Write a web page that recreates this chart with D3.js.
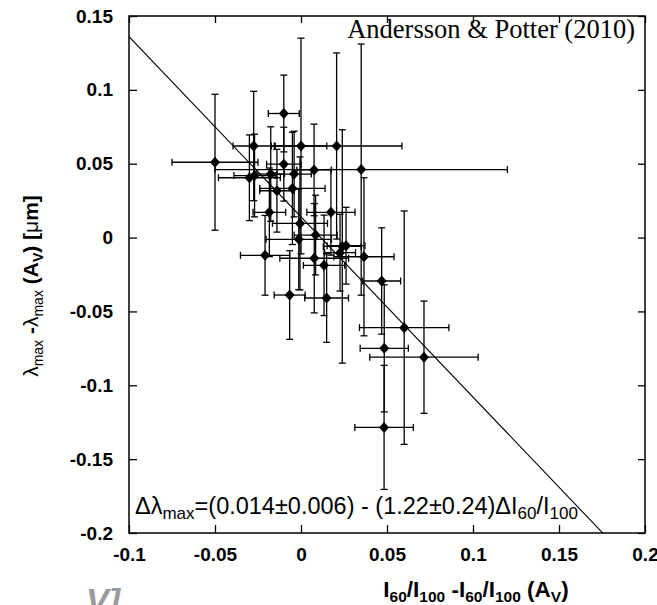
<!DOCTYPE html>
<html>
    <head>
        <title>lambda_max vs I60/I100</title>
        <style>
            body {margin:0; background:#fff;}
            .axis text {font-family:"Liberation Sans", Arial, sans-serif; font-weight:bold; font-size:19px; fill:#000;}
            .axis path {display:none;}
            .axis line {stroke:#000; stroke-width:1.3px;}
            .err {stroke:#000; stroke-width:1.3px;}
        </style>
        <script src="https://d3js.org/d3.v7.min.js"></script>
    </head>
    <body>
        <svg id="chart" width="657" height="605"></svg>
        <script>
            // data: x = I60/I100 offset, y = lambda_max offset
            var xVals = [-0.050, -0.010, -0.0275, 0.000, 0.0207, 0.035, 0.0076, -0.010, -0.0176, -0.004, -0.030,
                         -0.027, -0.014, -0.005, -0.0184, 0.0174, -0.0006, 0.0085, -0.0013, 0.0262, 0.024, 0.0227,
                         -0.0209, 0.0077, 0.0366, 0.0134, 0.0469, -0.0066, 0.0149, 0.060, 0.0484, 0.0715, 0.0483];
            var yVals = [0.051, 0.084, 0.062, 0.062, 0.062, 0.046, 0.0458, 0.0497, 0.043, 0.043, 0.0405,
                         0.042, 0.0317, 0.0333, 0.0171, 0.0171, 0.0096, 0.0017, -0.0012, -0.0055, -0.006, -0.0102,
                         -0.012, -0.014, -0.013, -0.0188, -0.0294, -0.0389, -0.0409, -0.061, -0.075, -0.081, -0.1285];
            var xErrs = [0.025, 0.009, 0.012, 0.015, 0.038, 0.085, 0.010, 0.010, 0.008, 0.010, 0.018,
                         0.012, 0.010, 0.019, 0.0095, 0.014, 0.016, 0.0125, 0.019, 0.011, 0.011, 0.009,
                         0.0143, 0.020, 0.0175, 0.012, 0.011, 0.009, 0.0127, 0.026, 0.014, 0.0315, 0.017];
            var yErrs = [0.046, 0.026, 0.037, 0.073, 0.063, 0.085, 0.031, 0.025, 0.032, 0.029, 0.029,
                         0.028, 0.028, 0.038, 0.030, 0.029, 0.045, 0.027, 0.034, 0.026, 0.079, 0.026,
                         0.027, 0.037, 0.0535, 0.034, 0.036, 0.030, 0.030, 0.079, 0.043, 0.038, 0.042];

            var xTicks = [-0.1, -0.05, 0, 0.05, 0.1, 0.15, 0.2];
            var xTickLabels = ["-0.1", "-0.05", "0", "0.05", "0.1", "0.15", "0.2"];
            var yTicks = [0.15, 0.1, 0.05, 0, -0.05, -0.1, -0.15, -0.2];
            var yTickLabels = ["0.15", "0.1", "0.05", "0", "-0.05", "-0.1", "-0.15", "-0.2"];

            // fit: dLambda = 0.014 - 1.22 dI60/I100
            var fitIntercept = 0.014;
            var fitSlope = -1.22;

            var svg = d3.select("#chart");
            var plotL = 129, plotR = 645, plotT = 16, plotB = 533;

            var x = d3.scaleLinear().domain([-0.1, 0.2]).range([plotL, plotR]);
            var y = d3.scaleLinear().domain([-0.2, 0.15]).range([plotB, plotT]);

            svg.append("defs").append("clipPath").attr("id", "plotClip")
                .append("rect").attr("x", plotL).attr("y", plotT)
                .attr("width", plotR - plotL).attr("height", plotB - plotT);

            // axes, ticks pointing inward on all four sides
            svg.append("g").attr("class", "axis")
                .attr("transform", "translate(0," + plotB + ")")
                .call(d3.axisBottom(x).tickValues(xTicks).tickSize(-8).tickPadding(15)
                    .tickFormat(function(d, i) { return xTickLabels[i]; }));
            svg.append("g").attr("class", "axis")
                .attr("transform", "translate(0," + plotT + ")")
                .call(d3.axisTop(x).tickValues(xTicks).tickSize(-7).tickFormat(""));
            svg.append("g").attr("class", "axis")
                .attr("transform", "translate(" + plotL + ",0)")
                .call(d3.axisLeft(y).tickValues(yTicks).tickSize(-8).tickPadding(16)
                    .tickFormat(function(d, i) { return yTickLabels[i]; }));
            svg.append("g").attr("class", "axis")
                .attr("transform", "translate(" + plotR + ",0)")
                .call(d3.axisRight(y).tickValues(yTicks).tickSize(-7).tickFormat(""));

            svg.append("rect")
                .attr("x", plotL).attr("y", plotT)
                .attr("width", plotR - plotL).attr("height", plotB - plotT)
                .attr("fill", "none").attr("stroke", "#000").attr("stroke-width", 1.5);

            // regression line
            var fitX = x.domain();
            svg.append("line")
                .attr("clip-path", "url(#plotClip)")
                .attr("x1", x(fitX[0])).attr("y1", y(fitIntercept + fitSlope * fitX[0]))
                .attr("x2", x(fitX[1])).attr("y2", y(fitIntercept + fitSlope * fitX[1]))
                .attr("stroke", "#000").attr("stroke-width", 1.1);

            var pts = xVals.map(function(v, i) {
                return {x: v, y: yVals[i], ex: xErrs[i], ey: yErrs[i]};
            });

            var cap = 3.5;
            var bars = svg.append("g").attr("class", "err").attr("clip-path", "url(#plotClip)");
            pts.forEach(function(p) {
                var g = bars.append("g");
                // vertical
                g.append("line").attr("x1", x(p.x)).attr("x2", x(p.x))
                    .attr("y1", y(p.y - p.ey)).attr("y2", y(p.y + p.ey));
                g.append("line").attr("x1", x(p.x) - cap).attr("x2", x(p.x) + cap)
                    .attr("y1", y(p.y + p.ey)).attr("y2", y(p.y + p.ey));
                g.append("line").attr("x1", x(p.x) - cap).attr("x2", x(p.x) + cap)
                    .attr("y1", y(p.y - p.ey)).attr("y2", y(p.y - p.ey));
                // horizontal
                g.append("line").attr("y1", y(p.y)).attr("y2", y(p.y))
                    .attr("x1", x(p.x - p.ex)).attr("x2", x(p.x + p.ex));
                g.append("line").attr("y1", y(p.y) - cap).attr("y2", y(p.y) + cap)
                    .attr("x1", x(p.x - p.ex)).attr("x2", x(p.x - p.ex));
                g.append("line").attr("y1", y(p.y) - cap).attr("y2", y(p.y) + cap)
                    .attr("x1", x(p.x + p.ex)).attr("x2", x(p.x + p.ex));
            });

            svg.append("g").selectAll("path").data(pts).join("path")
                .attr("d", "M0,-5.5L5,0L0,5.5L-5,0Z")
                .attr("transform", function(d) { return "translate(" + x(d.x) + "," + y(d.y) + ")"; })
                .attr("fill", "#000");

            // annotation
            svg.append("text")
                .attr("x", 635).attr("y", 38)
                .attr("text-anchor", "end")
                .style("font-family", "'Liberation Serif', 'Times New Roman', serif")
                .style("font-size", "26.5px")
                .text("Andersson & Potter (2010)");

            // fit equation
            var eq = svg.append("text")
                .attr("x", 135).attr("y", 514)
                .style("font-family", "'Liberation Sans', Arial, sans-serif")
                .style("font-size", "23.5px");
            eq.append("tspan").text("\u0394\u03bb");
            eq.append("tspan").attr("dy", 5).style("font-size", "17px").text("max");
            eq.append("tspan").attr("dy", -5).text("=(0.014\u00b10.006) - (1.22\u00b10.24)\u0394I");
            eq.append("tspan").attr("dy", 5).style("font-size", "17px").text("60");
            eq.append("tspan").attr("dy", -5).text("/I");
            eq.append("tspan").attr("dy", 5).style("font-size", "17px").text("100");

            // x axis title
            var xt = svg.append("text")
                .attr("x", 476).attr("y", 597)
                .attr("text-anchor", "middle")
                .style("font-family", "'Liberation Sans', Arial, sans-serif")
                .style("font-weight", "bold")
                .style("font-size", "22.5px");
            xt.append("tspan").text("I");
            xt.append("tspan").attr("dy", 5).style("font-size", "15.5px").text("60");
            xt.append("tspan").attr("dy", -5).text("/I");
            xt.append("tspan").attr("dy", 5).style("font-size", "15.5px").text("100");
            xt.append("tspan").attr("dy", -5).text(" -I");
            xt.append("tspan").attr("dy", 5).style("font-size", "15.5px").text("60");
            xt.append("tspan").attr("dy", -5).text("/I");
            xt.append("tspan").attr("dy", 5).style("font-size", "15.5px").text("100");
            xt.append("tspan").attr("dy", -5).text(" (A");
            xt.append("tspan").attr("dy", 5).style("font-size", "15.5px").text("V");
            xt.append("tspan").attr("dy", -5).text(")");

            // y axis title
            var yt = svg.append("text")
                .attr("transform", "translate(38,286) rotate(-90)")
                .attr("text-anchor", "middle")
                .style("font-family", "'Liberation Sans', Arial, sans-serif")
                .style("font-weight", "bold")
                .style("font-size", "21px");
            yt.append("tspan").style("font-weight", "normal").text("\u03bb");
            yt.append("tspan").attr("dy", 5).style("font-size", "14px").style("font-weight", "normal").text("max");
            yt.append("tspan").attr("dy", -5).text(" -");
            yt.append("tspan").style("font-weight", "normal").text("\u03bb");
            yt.append("tspan").attr("dy", 5).style("font-size", "14px").style("font-weight", "normal").text("max");
            yt.append("tspan").attr("dy", -5).text(" (A");
            yt.append("tspan").attr("dy", 5).style("font-size", "14px").text("V");
            yt.append("tspan").attr("dy", -5).text(") [");
            yt.append("tspan").style("font-weight", "normal").text("\u03bc");
            yt.append("tspan").text("m]");

            // cropped fragment of a neighbouring label, as in the source image
            svg.append("text")
                .attr("x", 86).attr("y", 612)
                .style("font-family", "'Liberation Sans', Arial, sans-serif")
                .style("font-weight", "bold").style("font-style", "italic")
                .style("font-size", "34px").attr("fill", "#9a9a9a")
                .text("V]");
        </script>
    </body>
</html>
